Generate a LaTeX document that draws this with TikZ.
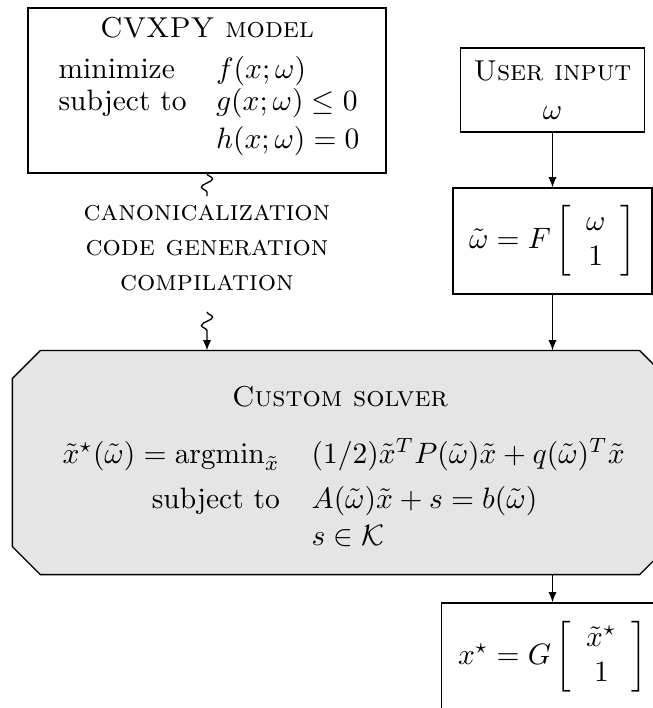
\documentclass[tikz,border=0pt]{standalone}
\usetikzlibrary{calc,decorations.pathmorphing,arrows.meta}
\newcommand\pxu{0.33898pt}
\newcommand\scfont{\fontsize{9.75}{10.9}\selectfont\scshape}
\begin{document}
\begin{tikzpicture}[x=0.33898pt,y=-0.33898pt,
  box/.style={draw, line width=0.45pt, inner sep=0pt, align=center},
  lbl/.style={inner sep=0pt},
  arr/.style={-{Latex[length=3.5pt,width=2.8pt]}, line width=0.45pt},
  wig/.style={line width=0.45pt, decorate, decoration={snake, amplitude=1.9pt, segment length=5.6pt}}]
\useasboundingbox (0,0) rectangle (653,708);
\clip (0,0) rectangle (653,708);

% CVXPY model box
\node[box, minimum width=358*\pxu, minimum height=165*\pxu] (model) at (207,90.5) {};
\node[lbl, anchor=base] (mtitle) at (207,37) {\scfont CVXPY model};
\node[lbl, anchor=base west] (mprob) at (58,78)
  {$\begin{array}[t]{@{}l@{\hspace{10pt}}l@{}}
    \mbox{minimize} & f(x;\omega)\\[-1pt]
    \mbox{subject to} & g(x;\omega)\le 0\\[1pt]
    & h(x;\omega)=0
  \end{array}$};

% steps
\node[lbl, align=center, inner ysep=2pt] (steps) at (207,248)
  {\scfont canonicalization\\ \scfont code generation\\ \scfont compilation};
\coordinate (s1) at (207,196);
\coordinate (s2) at (207,312);

% user input
\node[box, minimum width=184*\pxu, minimum height=84*\pxu] (user) at (552.5,90)
  {{\scfont User input}\\[1pt] $\omega$};

% omega tilde
\node[box, minimum width=199*\pxu, minimum height=106*\pxu] (wt) at (552.5,241)
  {$\tilde\omega = F\left[\begin{array}{c}\omega\\ 1\end{array}\right]$};

% solver
\node[minimum width=654*\pxu, minimum height=223*\pxu, inner sep=0pt] (solver) at (340,462.5) {};
\draw[line width=0.45pt, fill=gray!20]
  ($(solver.north west)+(28,0)$) -- ($(solver.north east)+(-28,0)$)
  -- ($(solver.north east)+(0,28)$) -- ($(solver.south east)+(0,-28)$)
  -- ($(solver.south east)+(-28,0)$) -- ($(solver.south west)+(28,0)$)
  -- ($(solver.south west)+(0,-28)$) -- ($(solver.north west)+(0,28)$) -- cycle;
\node[lbl, anchor=base] (stitle) at (340,406) {\scfont Custom solver};
\node[lbl, anchor=base west] (sprob) at (62,463)
  {$\begin{array}[t]{@{}r@{\hspace{10.8pt}}l@{}}
    \tilde x^\star(\tilde\omega) = \mathrm{argmin}_{\tilde x} & (1/2)\tilde x^T P(\tilde\omega)\tilde x + q(\tilde\omega)^T\tilde x\\[3.5pt]
    \mbox{subject to} & A(\tilde\omega)\tilde x + s = b(\tilde\omega)\\[0.5pt]
    & s\in\mathcal{K}
  \end{array}$};

% x star
\node[box, minimum width=222*\pxu, minimum height=108*\pxu] (xs) at (552.5,657)
  {$x^\star = G\left[\begin{array}{c}\tilde x^\star\\ 1\end{array}\right]$};

% connectors
\draw[wig] (model.south) -- (s1);
\draw[arr, decorate, decoration={snake, amplitude=1.9pt, segment length=5.6pt, post length=4.2pt}] (s2) -- (s2 |- solver.north);
\draw[arr] (user) -- (wt);
\draw[arr] (wt.south) -- (wt.south |- solver.north);
\draw[arr] (solver.south -| xs.north) -- (xs.north);
\end{tikzpicture}
\end{document}
